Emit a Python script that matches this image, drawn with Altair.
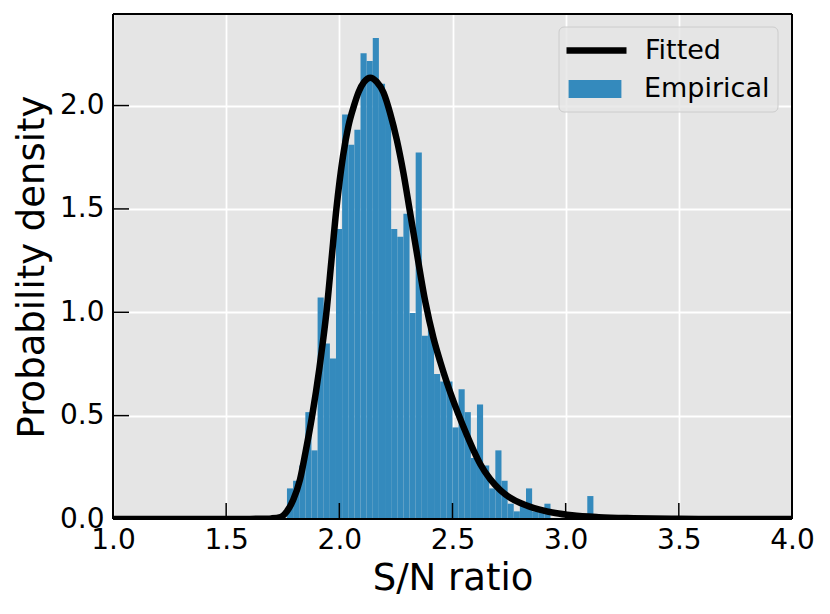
import altair as alt
import pandas as pd

# histogram bin edges (S/N ratio) and empirical densities
bin_edges = [1.7686, 1.7957, 1.8228, 1.8498, 1.8769, 1.9040, 1.9311, 1.9582, 1.9852, 2.0123,
             2.0394, 2.0665, 2.0936, 2.1206, 2.1477, 2.1748, 2.2019, 2.2290, 2.2560, 2.2831,
             2.3102, 2.3373, 2.3644, 2.3914, 2.4185, 2.4456, 2.4727, 2.4998, 2.5268, 2.5539,
             2.5810, 2.6081, 2.6352, 2.6622, 2.6893, 2.7164, 2.7435, 2.7706, 2.7976, 2.8247,
             2.8518, 2.8789, 2.9060, 2.9330, 2.9601, 2.9872, 3.0143, 3.0414, 3.0684, 3.0955,
             3.1226]
density = [0.148, 0.185, 0.259, 0.517, 0.332, 1.071, 0.849, 0.776, 1.403, 1.957,
           1.810, 1.883, 2.253, 2.216, 2.327, 2.105, 1.994, 1.403, 1.366, 1.477,
           0.997, 1.773, 0.886, 0.923, 0.702, 0.665, 0.665, 0.443, 0.628, 0.517,
           0.295, 0.554, 0.259, 0.148, 0.332, 0.185, 0.074, 0.037, 0.074, 0.148,
           0.037, 0.037, 0.074, 0.0, 0.0, 0.0, 0.0, 0.0, 0.0, 0.111]

# fitted curve
curve_x = [1.0, 1.5, 1.6, 1.65, 1.7, 1.74, 1.767, 1.796, 1.826, 1.850, 1.880, 1.912, 1.930,
           1.943, 1.965, 1.987, 2.016, 2.040, 2.065, 2.085, 2.110, 2.137, 2.165, 2.195, 2.224,
           2.254, 2.283, 2.310, 2.345, 2.380, 2.416, 2.446, 2.475, 2.504, 2.525, 2.564, 2.593,
           2.623, 2.667, 2.711, 2.755, 2.800, 2.844, 2.881, 2.954, 3.028, 3.146, 3.300, 3.500,
           3.750, 4.0]
curve_y = [0.0, 0.0, 0.0005, 0.001, 0.003, 0.009, 0.035, 0.092, 0.190, 0.320, 0.500, 0.730, 0.880,
           1.000, 1.250, 1.500, 1.754, 1.900, 2.000, 2.065, 2.115, 2.135, 2.115, 2.063, 1.965,
           1.834, 1.675, 1.500, 1.270, 1.050, 0.875, 0.760, 0.660, 0.570, 0.510, 0.405, 0.332,
           0.265, 0.192, 0.140, 0.103, 0.077, 0.059, 0.047, 0.029, 0.018, 0.009, 0.004, 0.001,
           0.0, 0.0]

x_ticks = [1.0, 1.5, 2.0, 2.5, 3.0, 3.5, 4.0]
y_ticks = [0.0, 0.5, 1.0, 1.5, 2.0]
x_limits = [1.0, 4.0]
y_limits = [0.0, 2.443]

W, H = 679, 505
FONT = "DejaVu Sans"
BLUE = "#348ABD"
LW = 6.5

bars = pd.DataFrame({"lo": bin_edges[:-1], "hi": bin_edges[1:], "d": density,
                     "series": "Empirical"})
curve = pd.DataFrame({"x": curve_x, "y": curve_y, "series": "Fitted"})
xt = pd.DataFrame({"v": x_ticks})
yt = pd.DataFrame({"v": y_ticks})
xf = pd.DataFrame({"v": x_limits})
yf = pd.DataFrame({"v": y_limits})
one = pd.DataFrame({"k": [0]})

xs = alt.Scale(domain=x_limits, nice=False, zero=False)
ys = alt.Scale(domain=y_limits, nice=False, zero=False)
xa = alt.Axis(values=x_ticks, format=".1f", title="S/N ratio", labelFlush=False,
              labelOverlap=False, labelBound=False, labelPadding=7, titlePadding=6)
ya = alt.Axis(values=y_ticks, format=".1f", title="Probability density", labelFlush=False,
              labelOverlap=False, labelBound=False, labelPadding=9, titlePadding=8)

common_leg = dict(orient="none", title=None, labelFont=FONT, labelFontSize=27,
                  labelColor="black", labelLimit=400, symbolSize=3600, padding=0)

fill_enc = alt.Fill("series:N", scale=alt.Scale(domain=["Empirical"], range=[BLUE]),
                    legend=alt.Legend(legendX=452, legendY=45, labelOffset=19,
                                      symbolType="M-0.88,-0.3L0.88,-0.3L0.88,0.3L-0.88,0.3Z",
                                      symbolStrokeWidth=0, symbolOpacity=1, **common_leg))
stroke_enc = alt.Stroke("series:N", scale=alt.Scale(domain=["Fitted"], range=["black"]),
                        legend=alt.Legend(legendX=450, legendY=3, labelOffset=15,
                                          symbolType="stroke", symbolStrokeWidth=LW,
                                          symbolOpacity=1, **common_leg))

hist = alt.Chart(bars).mark_rect(opacity=1, strokeWidth=0).encode(
    x=alt.X("lo:Q", scale=xs, axis=xa),
    x2="hi:Q",
    y=alt.Y("d:Q", scale=ys, axis=ya),
    y2=alt.datum(0),
    fill=fill_enc,
)

line = alt.Chart(curve).mark_line(strokeWidth=LW, clip=True, interpolate="monotone").encode(
    x=alt.X("x:Q", scale=xs, axis=xa),
    y=alt.Y("y:Q", scale=ys, axis=ya),
    stroke=stroke_enc,
)

legend_box = alt.Chart(one).mark_rect(
    fill="#E5E5E5", fillOpacity=0.8, stroke="#CCCCCC", strokeWidth=1, cornerRadius=5
).encode(
    x=alt.value(446), x2=alt.value(665), y=alt.value(13), y2=alt.value(98)
)

xtick = alt.Chart(xt).mark_rule(color="black", strokeWidth=1.5).encode(
    x=alt.X("v:Q", scale=xs, axis=xa),
    y=alt.value(H), y2=alt.value(H - 16),
)
ytick = alt.Chart(yt).mark_rule(color="black", strokeWidth=1.5).encode(
    y=alt.Y("v:Q", scale=ys, axis=ya),
    x=alt.value(0), x2=alt.value(16),
)
xframe = alt.Chart(xf).mark_rule(color="black", strokeWidth=2).encode(
    x=alt.X("v:Q", scale=xs, axis=xa),
    y=alt.value(0), y2=alt.value(H),
)
yframe = alt.Chart(yf).mark_rule(color="black", strokeWidth=2).encode(
    y=alt.Y("v:Q", scale=ys, axis=ya),
    x=alt.value(0), x2=alt.value(W),
)

chart = alt.layer(hist, line, xtick, ytick, xframe, yframe, legend_box).properties(
    width=W, height=H,
    autosize=alt.AutoSizeParams(type="none"),
    padding={"left": 105, "top": 6, "right": 30, "bottom": 80},
    background="white",
).configure_view(
    stroke="transparent", fill="#E5E5E5"
).configure_axis(
    grid=True, gridColor="white", gridWidth=1.8, domain=False, ticks=False, tickSize=0,
    labelFont=FONT, labelFontSize=28, labelColor="black",
    titleFont=FONT, titleFontSize=37, titleFontWeight="normal", titleColor="black",
)

chart.save("out.html", embed_options={"renderer": "svg", "actions": False})
